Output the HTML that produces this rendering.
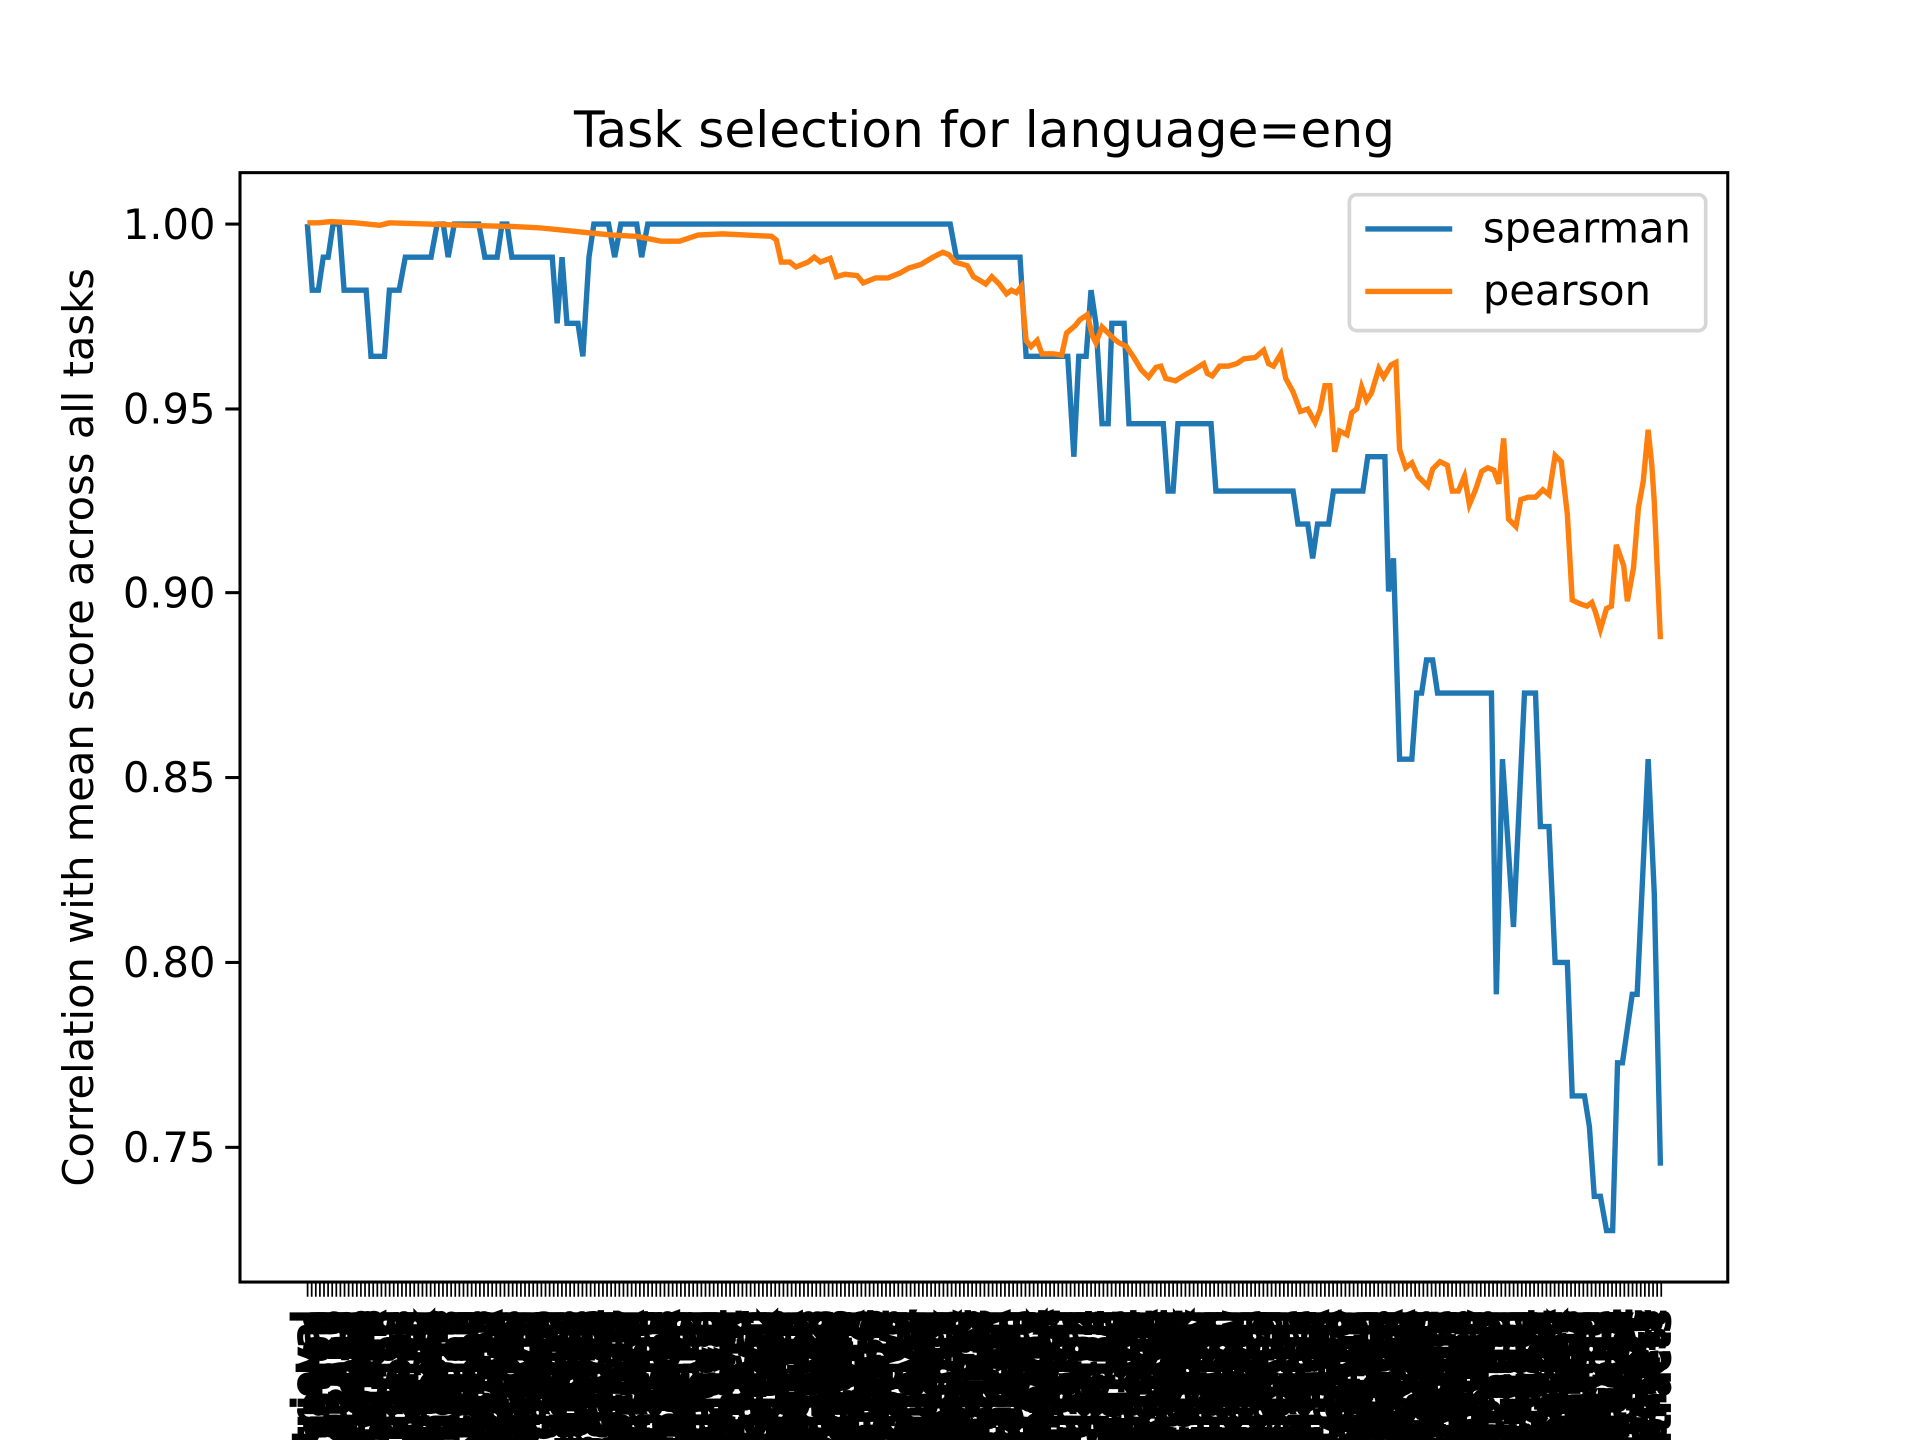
<!DOCTYPE html>
<html><head><meta charset="utf-8"><style>
html,body{margin:0;padding:0;background:#fff;width:1920px;height:1440px;overflow:hidden;}
svg{display:block;}
text{font-family:"DejaVu Sans","Liberation Sans",sans-serif;}
</style></head><body>
<svg width="1920" height="1440" viewBox="0 0 1568 1176" xmlns="http://www.w3.org/2000/svg" overflow="hidden">
<rect width="1568" height="1176" fill="#fff"/>
<text x="804" y="120" font-size="41" text-anchor="middle">Task selection for language=eng</text>
<text transform="translate(76,594) rotate(-90)" font-size="34" text-anchor="middle">Correlation with mean score across all tasks</text>
<g font-size="34" text-anchor="end">
<text x="176" y="195">1.00</text>
<text x="176" y="346">0.95</text>
<text x="176" y="496">0.90</text>
<text x="176" y="647">0.85</text>
<text x="176" y="798">0.80</text>
<text x="176" y="949">0.75</text>
</g>
<g stroke="#000" stroke-width="2.5">
<line x1="184" y1="183" x2="196" y2="183"/><line x1="184" y1="334" x2="196" y2="334"/><line x1="184" y1="484" x2="196" y2="484"/><line x1="184" y1="635" x2="196" y2="635"/><line x1="184" y1="786" x2="196" y2="786"/><line x1="184" y1="937" x2="196" y2="937"/>
</g>
<line x1="250.5" y1="1053" x2="1358" y2="1053" stroke="#000" stroke-width="12" stroke-dasharray="1.4 1.95"/>
<polyline fill="none" stroke="#1f77b4" stroke-width="4.4" points="251,183 255,237 260,237 264,210 268,210 272,183 277,183 281,237 299,237 303,291 314,291 318,237 326,237 331,210 352,210 357,183 362,183 366,210 371,183 391,183 396,210 406,210 410,183 414,183 418,210 451,210 455,264 459,210 463,264 472,264 476,291 481,210 485,183 497,183 502,210 507,183 520,183 524,210 529,183 776,183 781,210 833,210 838,291 872,291 877,373 881,291 887,291 891,237 895,264 900,346 905,346 908,264 918,264 922,346 950,346 954,401 958,401 962,346 989,346 993,401 1056,401 1060,428 1068,428 1072,456 1076,428 1085,428 1089,401 1113,401 1117,373 1131,373 1134,483 1138,456 1143,620 1153,620 1157,566 1161,566 1165,539 1170,539 1174,566 1218,566 1222,812 1227,620 1236,757 1245,566 1254,566 1258,675 1265,675 1270,786 1280,786 1284,895 1294,895 1298,920 1302,977 1307,977 1312,1005 1317,1005 1321,868 1325,868 1333,812 1337,812 1346,620 1351,730 1356,952"/>
<polyline fill="none" stroke="#ff7f0e" stroke-width="4.4" points="251,182 260,182 270,181 290,182 310,184 318,182 350,183 380,184 420,185 440,186 460,188 480,190 500,192 520,193 540,197 555,197 570,192 590,191 610,192 630,193 634,196 638,214 645,214 650,218 660,214 665,210 670,214 678,211 683,226 690,224 700,225 705,231 715,227 725,227 735,223 742,219 752,216 762,210 770,206 775,208 780,214 790,217 795,226 802,230 805,232 810,226 816,232 822,240 826,237 830,239 834,234 838,278 842,283 847,278 851,289 860,289 867,290 871,272 878,266 882,261 888,257 892,274 895,280 900,267 905,272 910,277 914,280 920,283 926,292 932,302 938,308 944,300 948,299 952,309 960,311 968,306 975,302 983,297 986,305 990,307 996,299 1003,299 1010,297 1016,293 1025,292 1032,286 1036,297 1040,299 1046,289 1050,309 1056,320 1062,336 1068,334 1074,345 1078,335 1082,315 1086,315 1090,369 1094,352 1100,355 1104,337 1108,334 1112,316 1116,327 1120,321 1126,301 1130,308 1136,298 1140,296 1143,367 1148,382 1153,378 1158,389 1166,397 1170,383 1176,377 1182,380 1186,401 1191,401 1196,389 1200,412 1205,400 1210,385 1215,382 1220,384 1224,395 1228,358 1232,424 1238,430 1242,408 1248,406 1254,406 1260,400 1265,404 1270,372 1275,377 1280,420 1284,490 1290,493 1296,495 1300,492 1303,500 1307,514 1312,497 1316,495 1320,445 1326,462 1329,491 1334,464 1338,415 1342,393 1346,351 1349,380 1351,410 1356,522"/>
<rect x="196" y="141" width="1215" height="906" fill="none" stroke="#000" stroke-width="2.5"/>
<rect x="1102" y="159" width="291" height="111" rx="6" fill="#fff" fill-opacity="0.8" stroke="#d6d6d6" stroke-width="3"/>
<line x1="1115" y1="187" x2="1186" y2="187" stroke="#1f77b4" stroke-width="4.4"/>
<line x1="1115" y1="238" x2="1186" y2="238" stroke="#ff7f0e" stroke-width="4.4"/>
<text x="1211" y="198" font-size="34">spearman</text>
<text x="1211" y="249" font-size="34">pearson</text>
<g font-size="30" font-weight="bold" text-anchor="end" stroke="#000" stroke-width="1.5">
<text transform="translate(265,1070) rotate(-90)">Banking77Classification</text>
<text transform="translate(275,1070) rotate(-90)">STS12</text>
<text transform="translate(285,1070) rotate(-90)">ArguAna</text>
<text transform="translate(295,1070) rotate(-90)">SciFact-Retrieval</text>
<text transform="translate(305,1070) rotate(-90)">TwitterURLCorpus</text>
<text transform="translate(315,1070) rotate(-90)">SICK-R</text>
<text transform="translate(325,1070) rotate(-90)">EmotionClassification</text>
<text transform="translate(335,1070) rotate(-90)">NFCorpus</text>
<text transform="translate(345,1070) rotate(-90)">MedrxivClustering</text>
<text transform="translate(355,1070) rotate(-90)">STSBenchmark</text>
<text transform="translate(365,1070) rotate(-90)">ToxicConversations</text>
<text transform="translate(375,1070) rotate(-90)">FiQA2018</text>
<text transform="translate(385,1070) rotate(-90)">ImdbClassification</text>
<text transform="translate(395,1070) rotate(-90)">SprintDuplicateQuestions</text>
<text transform="translate(405,1070) rotate(-90)">STS15</text>
<text transform="translate(415,1070) rotate(-90)">QuoraRetrieval</text>
<text transform="translate(425,1070) rotate(-90)">AskUbuntuDupQuestions</text>
<text transform="translate(435,1070) rotate(-90)">BiorxivClustering</text>
<text transform="translate(445,1070) rotate(-90)">SCIDOCS</text>
<text transform="translate(455,1070) rotate(-90)">TRECCOVID</text>
<text transform="translate(465,1070) rotate(-90)">STS22</text>
<text transform="translate(475,1070) rotate(-90)">MindSmallReranking</text>
<text transform="translate(485,1070) rotate(-90)">RedditClustering</text>
<text transform="translate(495,1070) rotate(-90)">Touche2020</text>
<text transform="translate(505,1070) rotate(-90)">MassiveIntent</text>
<text transform="translate(515,1070) rotate(-90)">STS13</text>
<text transform="translate(525,1070) rotate(-90)">ClimateFEVER</text>
<text transform="translate(535,1070) rotate(-90)">StackExchange</text>
<text transform="translate(545,1070) rotate(-90)">BIOSSES</text>
<text transform="translate(555,1070) rotate(-90)">HotpotQA</text>
<text transform="translate(565,1070) rotate(-90)">ArxivClustering</text>
<text transform="translate(575,1070) rotate(-90)">AmazonCounterfactual</text>
<text transform="translate(585,1070) rotate(-90)">DBPedia</text>
<text transform="translate(595,1070) rotate(-90)">SummEval</text>
<text transform="translate(605,1070) rotate(-90)">TweetSentiment</text>
<text transform="translate(615,1070) rotate(-90)">STS14</text>
<text transform="translate(625,1070) rotate(-90)">MTOPDomain</text>
<text transform="translate(635,1070) rotate(-90)">CQADupstack</text>
<text transform="translate(645,1070) rotate(-90)">NQ-Retrieval</text>
<text transform="translate(655,1070) rotate(-90)">SciDocsRR</text>
<text transform="translate(665,1070) rotate(-90)">TwentyNewsgroups</text>
<text transform="translate(675,1070) rotate(-90)">STS16</text>
<text transform="translate(685,1070) rotate(-90)">MSMARCO</text>
<text transform="translate(695,1070) rotate(-90)">MassiveScenario</text>
<text transform="translate(705,1070) rotate(-90)">FEVER</text>
<text transform="translate(715,1070) rotate(-90)">StackOverflowDupQ</text>
<text transform="translate(725,1070) rotate(-90)">MTOPIntent</text>
<text transform="translate(735,1070) rotate(-90)">AmazonReviews</text>
<text transform="translate(745,1070) rotate(-90)">STS17</text>
<text transform="translate(755,1070) rotate(-90)">BrightRetrieval</text>
<text transform="translate(765,1070) rotate(-90)">WikiCitiesClustering</text>
<text transform="translate(775,1070) rotate(-90)">LegalBench</text>
<text transform="translate(785,1070) rotate(-90)">PawsX</text>
<text transform="translate(795,1070) rotate(-90)">AmazonPolarity</text>
<text transform="translate(805,1070) rotate(-90)">CodeSearchNet</text>
<text transform="translate(815,1070) rotate(-90)">ArxivHierarchical</text>
<text transform="translate(825,1070) rotate(-90)">SpartQA</text>
<text transform="translate(835,1070) rotate(-90)">TempReason</text>
<text transform="translate(845,1070) rotate(-90)">WinoGrande</text>
<text transform="translate(855,1070) rotate(-90)">FinancialPhrasebank</text>
<text transform="translate(865,1070) rotate(-90)">PoemSentiment</text>
<text transform="translate(875,1070) rotate(-90)">Core17Instruction</text>
<text transform="translate(885,1070) rotate(-90)">News21Instruction</text>
<text transform="translate(895,1070) rotate(-90)">Robust04</text>
<text transform="translate(905,1070) rotate(-90)">SemRel24</text>
<text transform="translate(915,1070) rotate(-90)">CExaPPC</text>
<text transform="translate(925,1070) rotate(-90)">FaithDial</text>
<text transform="translate(935,1070) rotate(-90)">HagridRetrieval</text>
<text transform="translate(945,1070) rotate(-90)">Ko-StrategyQA</text>
<text transform="translate(955,1070) rotate(-90)">AILAStatutes</text>
<text transform="translate(965,1070) rotate(-90)">ToxicChat</text>
<text transform="translate(975,1070) rotate(-90)">GPUSpeedTask</text>
<text transform="translate(985,1070) rotate(-90)">LEMBPasskey</text>
<text transform="translate(995,1070) rotate(-90)">NewsClassification</text>
<text transform="translate(1005,1070) rotate(-90)">PatentClassification</text>
<text transform="translate(1015,1070) rotate(-90)">YelpReview</text>
<text transform="translate(1025,1070) rotate(-90)">DBpediaClassification</text>
<text transform="translate(1035,1070) rotate(-90)">CUADLicense</text>
<text transform="translate(1045,1070) rotate(-90)">FrenkEn</text>
<text transform="translate(1055,1070) rotate(-90)">Quail</text>
<text transform="translate(1065,1070) rotate(-90)">RARbCode</text>
<text transform="translate(1075,1070) rotate(-90)">ARCChallenge</text>
<text transform="translate(1085,1070) rotate(-90)">PIQA</text>
<text transform="translate(1095,1070) rotate(-90)">SIQA</text>
<text transform="translate(1105,1070) rotate(-90)">HellaSwag</text>
<text transform="translate(1115,1070) rotate(-90)">AlphaNLI</text>
<text transform="translate(1125,1070) rotate(-90)">RARbMath</text>
<text transform="translate(1135,1070) rotate(-90)">WebLINXCandidates</text>
<text transform="translate(1145,1070) rotate(-90)">MedicalQA</text>
<text transform="translate(1155,1070) rotate(-90)">TopiOCQA</text>
<text transform="translate(1165,1070) rotate(-90)">LegalSummarization</text>
<text transform="translate(1175,1070) rotate(-90)">CQADupstackGaming</text>
<text transform="translate(1185,1070) rotate(-90)">BIRCO-Relic</text>
<text transform="translate(1195,1070) rotate(-90)">DiaBLa</text>
<text transform="translate(1205,1070) rotate(-90)">ContractNLI</text>
<text transform="translate(1215,1070) rotate(-90)">InsurancePolicy</text>
<text transform="translate(1225,1070) rotate(-90)">CorporateLobbying</text>
<text transform="translate(1235,1070) rotate(-90)">OverrulingLegal</text>
<text transform="translate(1245,1070) rotate(-90)">PersonalJurisdiction</text>
<text transform="translate(1255,1070) rotate(-90)">MAUDLegalBench</text>
<text transform="translate(1265,1070) rotate(-90)">CanadaTaxCourt</text>
<text transform="translate(1275,1070) rotate(-90)">DefinitionClassification</text>
<text transform="translate(1285,1070) rotate(-90)">TelemarketingSales</text>
<text transform="translate(1295,1070) rotate(-90)">UCCVCommonLaw</text>
<text transform="translate(1305,1070) rotate(-90)">OPP115DataRetention</text>
<text transform="translate(1315,1070) rotate(-90)">TextualismTool</text>
<text transform="translate(1325,1070) rotate(-90)">SCDBPAudits</text>
<text transform="translate(1335,1070) rotate(-90)">JCrewBlocker</text>
<text transform="translate(1345,1070) rotate(-90)">NYSJudicialEthics</text>
<text transform="translate(1355,1070) rotate(-90)">LearnedHandsCourts</text>
<text transform="translate(1364,1070) rotate(-90)">ConsumerContracts</text>
</g>
<g font-size="30" font-weight="bold" text-anchor="end" stroke="#000" stroke-width="1.5">
<text transform="translate(260,1070) rotate(-90)">CQADupstackRetrieval</text>
<text transform="translate(270,1070) rotate(-90)">MassiveScenarioClassification</text>
<text transform="translate(280,1070) rotate(-90)">STS14STS15STS16</text>
<text transform="translate(290,1070) rotate(-90)">TwitterSemEval2015</text>
<text transform="translate(300,1070) rotate(-90)">ArxivClusteringS2S</text>
<text transform="translate(310,1070) rotate(-90)">RedditClusteringP2P</text>
<text transform="translate(320,1070) rotate(-90)">StackExchangeP2P</text>
<text transform="translate(330,1070) rotate(-90)">MedrxivClusteringS2S</text>
<text transform="translate(340,1070) rotate(-90)">AmazonReviewsClassification</text>
<text transform="translate(350,1070) rotate(-90)">SciDocsReranking</text>
<text transform="translate(360,1070) rotate(-90)">QuoraDuplicateRetrieval</text>
<text transform="translate(370,1070) rotate(-90)">BiorxivClusteringP2P</text>
<text transform="translate(380,1070) rotate(-90)">EmotionClassification</text>
<text transform="translate(390,1070) rotate(-90)">MTOPDomainClassification</text>
<text transform="translate(400,1070) rotate(-90)">ToxicConversationsClass</text>
<text transform="translate(410,1070) rotate(-90)">StackOverflowQA</text>
<text transform="translate(420,1070) rotate(-90)">TwentyNewsgroupsClustering</text>
<text transform="translate(430,1070) rotate(-90)">MindSmallReranking</text>
<text transform="translate(440,1070) rotate(-90)">FeedbackQARetrieval</text>
<text transform="translate(450,1070) rotate(-90)">WikipediaRerankingMultilingual</text>
<text transform="translate(460,1070) rotate(-90)">SummEvalSummarization</text>
<text transform="translate(470,1070) rotate(-90)">ClimateFEVERHardNegatives</text>
<text transform="translate(480,1070) rotate(-90)">HotpotQAHardNegatives</text>
<text transform="translate(490,1070) rotate(-90)">FEVERHardNegatives</text>
<text transform="translate(500,1070) rotate(-90)">ImdbClassification</text>
<text transform="translate(510,1070) rotate(-90)">AskUbuntuDupQuestions</text>
<text transform="translate(520,1070) rotate(-90)">ArguAnaRetrieval</text>
<text transform="translate(530,1070) rotate(-90)">TRECCOVIDRetrieval</text>
<text transform="translate(540,1070) rotate(-90)">MassiveIntentClassification</text>
<text transform="translate(550,1070) rotate(-90)">SprintDuplicateQuestions</text>
<text transform="translate(560,1070) rotate(-90)">TweetSentimentExtraction</text>
<text transform="translate(570,1070) rotate(-90)">BiorxivClusteringS2S</text>
<text transform="translate(580,1070) rotate(-90)">NFCorpusRetrieval</text>
<text transform="translate(590,1070) rotate(-90)">SciFactRetrieval</text>
<text transform="translate(600,1070) rotate(-90)">Touche2020Retrieval</text>
<text transform="translate(610,1070) rotate(-90)">STSBenchmarkSTS</text>
<text transform="translate(620,1070) rotate(-90)">FiQA2018Retrieval</text>
<text transform="translate(630,1070) rotate(-90)">DBPediaRetrieval</text>
<text transform="translate(640,1070) rotate(-90)">AmazonCounterfactualClass</text>
<text transform="translate(650,1070) rotate(-90)">ArxivClusteringP2P</text>
<text transform="translate(660,1070) rotate(-90)">StackExchangeClustering</text>
<text transform="translate(670,1070) rotate(-90)">MSMARCORetrieval</text>
<text transform="translate(680,1070) rotate(-90)">Banking77Classification</text>
<text transform="translate(690,1070) rotate(-90)">TwitterURLCorpus</text>
<text transform="translate(700,1070) rotate(-90)">SICK-RSTS</text>
<text transform="translate(710,1070) rotate(-90)">BIOSSESSTS</text>
<text transform="translate(720,1070) rotate(-90)">NQRetrievalHard</text>
<text transform="translate(730,1070) rotate(-90)">MedrxivClusteringP2P</text>
<text transform="translate(740,1070) rotate(-90)">MTOPIntentClassification</text>
<text transform="translate(750,1070) rotate(-90)">CodeSearchNetRetrieval</text>
<text transform="translate(760,1070) rotate(-90)">LegalBenchConsumer</text>
<text transform="translate(770,1070) rotate(-90)">WinoGrandeRetrieval</text>
<text transform="translate(780,1070) rotate(-90)">TempReasonL1</text>
<text transform="translate(790,1070) rotate(-90)">SpartQARetrieval</text>
<text transform="translate(800,1070) rotate(-90)">PoemSentimentClass</text>
<text transform="translate(810,1070) rotate(-90)">FinancialPhrasebankClass</text>
<text transform="translate(820,1070) rotate(-90)">Core17InstructionRetrieval</text>
<text transform="translate(830,1070) rotate(-90)">News21InstructionRetrieval</text>
<text transform="translate(840,1070) rotate(-90)">Robust04InstructionRetrieval</text>
<text transform="translate(850,1070) rotate(-90)">SemRel24STS</text>
<text transform="translate(860,1070) rotate(-90)">HagridRetrievalQA</text>
<text transform="translate(870,1070) rotate(-90)">FaithDialRetrieval</text>
<text transform="translate(880,1070) rotate(-90)">AILAStatutesRetrieval</text>
<text transform="translate(890,1070) rotate(-90)">ToxicChatClassification</text>
<text transform="translate(900,1070) rotate(-90)">NewsClassification</text>
<text transform="translate(910,1070) rotate(-90)">PatentClassification</text>
<text transform="translate(920,1070) rotate(-90)">YelpReviewFullClass</text>
<text transform="translate(930,1070) rotate(-90)">DBpediaClassification</text>
<text transform="translate(940,1070) rotate(-90)">CUADLicenseGrant</text>
<text transform="translate(950,1070) rotate(-90)">FrenkEnClassification</text>
<text transform="translate(960,1070) rotate(-90)">QuailRetrieval</text>
<text transform="translate(970,1070) rotate(-90)">RARbCodeRetrieval</text>
<text transform="translate(980,1070) rotate(-90)">ARCChallengeRetrieval</text>
<text transform="translate(990,1070) rotate(-90)">PIQARetrieval</text>
<text transform="translate(1000,1070) rotate(-90)">SIQARetrieval</text>
<text transform="translate(1010,1070) rotate(-90)">HellaSwagRetrieval</text>
<text transform="translate(1020,1070) rotate(-90)">AlphaNLIRetrieval</text>
<text transform="translate(1030,1070) rotate(-90)">RARbMathRetrieval</text>
<text transform="translate(1040,1070) rotate(-90)">WebLINXCandidatesReranking</text>
<text transform="translate(1050,1070) rotate(-90)">MedicalQARetrieval</text>
<text transform="translate(1060,1070) rotate(-90)">TopiOCQARetrieval</text>
<text transform="translate(1070,1070) rotate(-90)">LegalSummarization</text>
<text transform="translate(1080,1070) rotate(-90)">CQADupstackGamingRetrieval</text>
<text transform="translate(1090,1070) rotate(-90)">BIRCORelicRetrieval</text>
<text transform="translate(1100,1070) rotate(-90)">DiaBLaBitextMining</text>
<text transform="translate(1110,1070) rotate(-90)">ContractNLIConfidentiality</text>
<text transform="translate(1120,1070) rotate(-90)">InsurancePolicyInterpretation</text>
<text transform="translate(1130,1070) rotate(-90)">CorporateLobbyingLegal</text>
<text transform="translate(1140,1070) rotate(-90)">OverrulingLegalBench</text>
<text transform="translate(1150,1070) rotate(-90)">PersonalJurisdictionLegal</text>
<text transform="translate(1160,1070) rotate(-90)">MAUDLegalBenchClass</text>
<text transform="translate(1170,1070) rotate(-90)">CanadaTaxCourtOutcomes</text>
<text transform="translate(1180,1070) rotate(-90)">DefinitionClassificationLegal</text>
<text transform="translate(1190,1070) rotate(-90)">TelemarketingSalesRule</text>
<text transform="translate(1200,1070) rotate(-90)">UCCVCommonLawClass</text>
<text transform="translate(1210,1070) rotate(-90)">OPP115DataRetention</text>
<text transform="translate(1220,1070) rotate(-90)">TextualismToolDictionaries</text>
<text transform="translate(1230,1070) rotate(-90)">SCDBPAuditsLegal</text>
<text transform="translate(1240,1070) rotate(-90)">JCrewBlockerLegal</text>
<text transform="translate(1250,1070) rotate(-90)">NYSJudicialEthicsLegal</text>
<text transform="translate(1260,1070) rotate(-90)">LearnedHandsCourtsLegal</text>
<text transform="translate(1270,1070) rotate(-90)">ConsumerContractsQA</text>
<text transform="translate(1280,1070) rotate(-90)">GermanSTSBenchmark</text>
<text transform="translate(1290,1070) rotate(-90)">StackOverflowDupQuestions</text>
<text transform="translate(1300,1070) rotate(-90)">ArXivHierarchicalClustering</text>
<text transform="translate(1310,1070) rotate(-90)">BrightRetrievalLong</text>
<text transform="translate(1320,1070) rotate(-90)">AppsRetrievalCode</text>
<text transform="translate(1330,1070) rotate(-90)">CosQARetrievalCode</text>
<text transform="translate(1340,1070) rotate(-90)">SyntheticText2SQL</text>
<text transform="translate(1350,1070) rotate(-90)">CodeFeedbackMT</text>
<text transform="translate(1360,1070) rotate(-90)">CodeTransOceanContest</text>
</g>
</svg>
</body></html>
